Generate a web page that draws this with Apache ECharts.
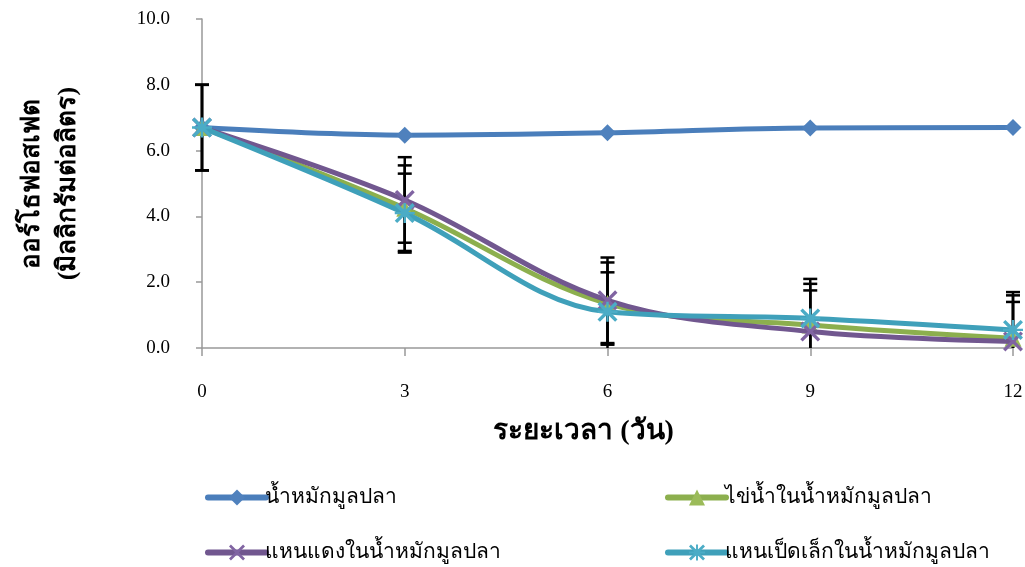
<!DOCTYPE html>
<html><head><meta charset="utf-8">
<script src="https://cdn.jsdelivr.net/npm/echarts@6/dist/echarts.min.js"></script>
<style>html,body{margin:0;padding:0;background:#fff}#c{width:1025px;height:567px}</style>
</head><body><div id="c"></div>
<script>
const days = [0, 3, 6, 9, 12];
const seriesNames = ['น้ำหมักมูลปลา', 'ไข่น้ำในน้ำหมักมูลปลา', 'แหนแดงในน้ำหมักมูลปลา', 'แหนเป็ดเล็กในน้ำหมักมูลปลา'];
const fishSauce = [6.70, 6.47, 6.54, 6.69, 6.70];
const wolffia = [6.70, 4.25, 1.35, 0.70, 0.30];
const azolla = [6.70, 4.50, 1.45, 0.50, 0.20];
const lemna = [6.70, 4.10, 1.10, 0.90, 0.55];
const wolffiaErr = [1.30, 1.30, 1.25, 1.25, 1.30];
const azollaErr = [1.30, 1.30, 1.30, 1.25, 1.20];
const lemnaErr = [1.30, 1.20, 1.20, 1.20, 1.15];
const yTicks = [0, 2, 4, 6, 8, 10];

const colors = ['#4F81BD', '#9BBB59', '#8064A2', '#4BACC6'];
const lineColors = ['#4A7EBB', '#8CAF4E', '#71578F', '#3FA0BA'];
const xSym = 'path://M0,1.2L1.2,0L5,3.8L8.8,0L10,1.2L6.2,5L10,8.8L8.8,10L5,6.2L1.2,10L0,8.8L3.8,5Z';
const astSym = 'path://M0,1.2L1.2,0L4.4,3.2L4.4,0L5.6,0L5.6,3.2L8.8,0L10,1.2L6.8,4.4L10,4.4L10,5.6L6.8,5.6L10,8.8L8.8,10L5.6,6.8L5.6,10L4.4,10L4.4,6.8L1.2,10L0,8.8L3.2,5.6L0,5.6L0,4.4L3.2,4.4Z';
const symbols = ['diamond', 'triangle', xSym, astSym];
const symSizes = [17, 17, 20, 20];

function pairs(vals) { return days.map((d, i) => [d, vals[i]]); }
function errData(vals, errs) { return days.map((d, i) => [d, vals[i] - errs[i], vals[i] + errs[i]]); }

const data = [fishSauce, wolffia, azolla, lemna];
const errs = [null, wolffiaErr, azollaErr, lemnaErr];

const series = [];
data.forEach((vals, k) => {
  series.push({
    name: seriesNames[k], type: 'line', smooth: 0.35, data: pairs(vals),
    symbol: symbols[k], symbolSize: symSizes[k],
    lineStyle: { color: lineColors[k], width: 5, cap: 'round' },
    itemStyle: { color: colors[k] },
    z: 5 + k
  });
});
errs.forEach((e, k) => {
  if (!e) return;
  series.push({
    type: 'custom', z: 3, silent: true,
    data: errData(data[k], e),
    renderItem: function (params, api) {
      const x = api.value(0);
      const lo = Math.max(api.value(1), 0);
      const hi = api.value(2);
      const pHi = api.coord([x, hi]);
      const pLo = api.coord([x, lo]);
      const hw = 7;
      const st = { stroke: '#000', lineWidth: 2.5 };
      const children = [
        { type: 'line', shape: { x1: pHi[0], y1: pHi[1], x2: pLo[0], y2: pLo[1] }, style: st },
        { type: 'line', shape: { x1: pHi[0] - hw, y1: pHi[1], x2: pHi[0] + hw, y2: pHi[1] }, style: st }
      ];
      if (api.value(1) >= 0) children.push({ type: 'line', shape: { x1: pLo[0] - hw, y1: pLo[1], x2: pLo[0] + hw, y2: pLo[1] }, style: st });
      return { type: 'group', children: children };
    }
  });
});

const serif = '"Liberation Serif", "Times New Roman", serif';
const legendCommon = {
  orient: 'vertical', top: 487, padding: 0, itemGap: 34, itemWidth: 58, itemHeight: 20,
  lineStyle: { width: 6, cap: 'round' },
  textStyle: { fontFamily: serif, fontSize: 21, color: '#000', padding: [0, 0, 0, -6] }
};
const chart = echarts.init(document.getElementById('c'), null, { renderer: 'canvas' });
chart.setOption({
  animation: false,
  backgroundColor: '#fff',
  grid: { left: 202, right: 12, top: 19, bottom: 219, containLabel: false, outerBoundsMode: 'none' },
  xAxis: {
    type: 'value', min: 0, max: 12, interval: 3,
    name: 'ระยะเวลา (วัน)', nameLocation: 'middle', nameGap: 70,
    nameTextStyle: { fontFamily: serif, fontSize: 28, fontWeight: 'bold', color: '#000', padding: [0, 48, 0, 0] },
    axisLine: { lineStyle: { color: '#999', width: 1.5 } },
    axisTick: { show: true, length: 8, lineStyle: { color: '#999', width: 1.5 } },
    axisLabel: { margin: 35, fontFamily: serif, fontSize: 19, color: '#000' },
    splitLine: { show: false }
  },
  yAxis: {
    type: 'value', min: 0, max: 10, interval: 2,
    name: 'ออร์โธฟอสเฟต\n(มิลลิกรัมต่อลิตร)', nameLocation: 'middle', nameGap: 116, nameRotate: 90,
    nameTextStyle: { fontFamily: serif, fontSize: 26, fontWeight: 'bold', color: '#000', lineHeight: 36 },
    axisLine: { show: true, lineStyle: { color: '#999', width: 1.5 } },
    axisTick: { show: true, length: 6, lineStyle: { color: '#999', width: 1.5 } },
    axisLabel: { margin: 32, fontFamily: serif, fontSize: 19, color: '#000', formatter: v => v.toFixed(1) },
    splitLine: { show: false }
  },
  legend: [
    Object.assign({ data: [seriesNames[0], seriesNames[2]], left: 205 }, legendCommon),
    Object.assign({ data: [seriesNames[1], seriesNames[3]], left: 665 }, legendCommon)
  ],
  series: series
});
</script></body></html>
